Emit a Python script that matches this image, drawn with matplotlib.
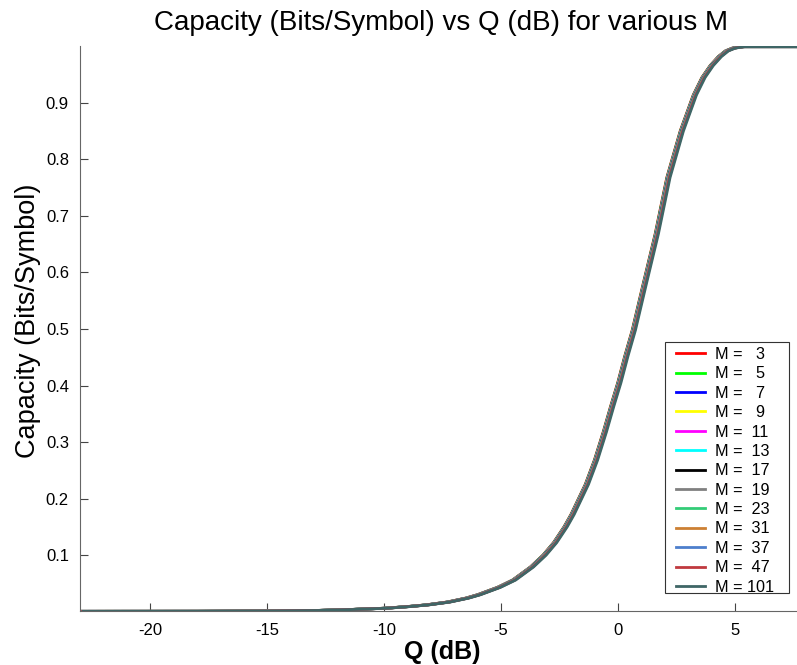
import matplotlib.pyplot as plt
import matplotlib.patches as mpatches
import numpy as np

plt.rcParams['font.family'] = ['Liberation Sans', 'DejaVu Sans']
plt.rcParams['axes.unicode_minus'] = False

# Q (dB) sample points and capacity (M = 3 curve)
q_db = [-23, -18, -15, -13, -12, -11, -10, -9, -8.2, -7.3, -6.5, -6, -5.15,
        -4.5, -3.74, -3.2, -2.75, -2.3, -2, -1.39, -1, -0.62, -0.3, 0, 0.3,
        0.62, 1.1, 1.6, 2.1, 2.67, 3.23, 3.6, 3.95, 4.3, 4.6, 4.9, 5.3, 8]
capacity = [0.0005, 0.0006, 0.001, 0.002, 0.003, 0.0045, 0.006, 0.009, 0.012,
            0.017, 0.024, 0.03, 0.043, 0.056, 0.079, 0.1, 0.122, 0.15, 0.172,
            0.225, 0.268, 0.318, 0.364, 0.405, 0.452, 0.498, 0.582, 0.668,
            0.768, 0.85, 0.914, 0.945, 0.966, 0.982, 0.992, 0.997, 0.9995,
            0.9995]

m_values = [3, 5, 7, 9, 11, 13, 17, 19, 23, 31, 37, 47, 101]
# small rightward offset (dB) of each curve relative to M = 3
shift_db = [0.0, 0.01, 0.02, 0.03, 0.04, 0.05, 0.06, 0.07, 0.08, 0.09, 0.1,
            0.11, 0.14]
colors = ['#ff0000', '#00ff00', '#0000ff', '#ffff00', '#ff00ff', '#00ffff',
          '#000000', '#808080', '#33cc77', '#cc8033', '#4d7fcc', '#c0393f',
          '#3f6666']

W, H = 797, 665
fig = plt.figure(figsize=(W / 100, H / 100), dpi=100)
ax = fig.add_axes([0.1004, 0.0805, 0.9093, 0.8496])

q = np.array(q_db)
for m, s, c in zip(m_values, shift_db, colors):
    ax.plot(q + s, capacity, color=c, lw=2, label='M = %3d' % m)

ax.set_xlim(-23, 8)
ax.set_ylim(0.0003, 0.9998)
ax.set_xticks([-20, -15, -10, -5, 0, 5])
ax.set_yticks([0.1, 0.2, 0.3, 0.4, 0.5, 0.6, 0.7, 0.8, 0.9])
ax.set_yticklabels(['0.1', '0.2', '0.3', '0.4', '0.5', '0.6', '0.7', '0.8', '0.9'])

for side in ['top', 'right']:
    ax.spines[side].set_visible(False)
for side in ['left', 'bottom']:
    ax.spines[side].set_color('#666666')
ax.tick_params(direction='in', length=6, color='#444444', labelsize=12,
               pad=8)

fig.text(0.5 * (0.1004 + 1.0097) - 0.002, 0.985,
         'Capacity (Bits/Symbol) vs Q (dB) for various M',
         fontsize=20, ha='center', va='top')
ax.set_xlabel('Q (dB)', fontsize=18, fontweight='bold', labelpad=2)
ax.set_ylabel('Capacity (Bits/Symbol)', fontsize=19.5, labelpad=6)
ax.yaxis.set_label_coords(-0.054, 0.514)

# legend entries without frame, boxed separately like the MATLAB legend
leg = ax.legend(loc='upper left', bbox_to_anchor=(676 / W, 1 - 347 / H),
                bbox_transform=fig.transFigure, borderaxespad=0, borderpad=0,
                frameon=False, fontsize=11.7, handlelength=1.8,
                labelspacing=0.27, handletextpad=0.6)
leg.set_zorder(6)
box = mpatches.Rectangle((665 / W, 1 - 593 / H), 124 / W, 251 / H,
                         transform=fig.transFigure, facecolor='white',
                         edgecolor='#333333', lw=0.8, zorder=5,
                         clip_on=False)
ax.add_patch(box)

fig.savefig('out.png', dpi=100)
